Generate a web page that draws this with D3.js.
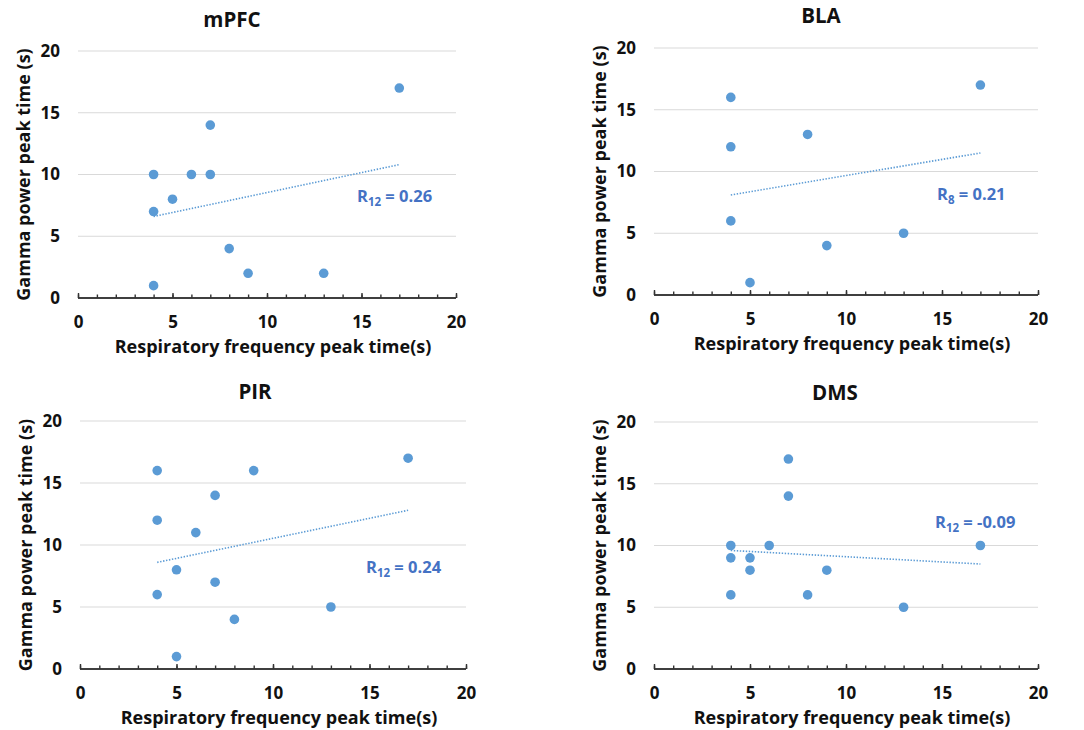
<!DOCTYPE html>
<html>
<head>
<meta charset="utf-8">
<script src="https://cdn.jsdelivr.net/npm/d3@7"></script>
<style>
  body { margin: 0; background: #fff; }
  svg { display: block; }
  text { font-family: "Open Sans", "Liberation Sans", sans-serif; font-weight: 700; }
</style>
</head>
<body>
<svg id="chart" width="1084" height="730"></svg>
<script>
// ---- data ----
const regions = ["mPFC", "BLA", "PIR", "DMS"];

const mpfcX = [4, 4, 4, 5, 6, 7, 7, 8, 9, 13, 17];
const mpfcY = [10, 7, 1, 8, 10, 14, 10, 4, 2, 2, 17];

const blaX = [4, 4, 4, 5, 8, 9, 13, 17];
const blaY = [16, 12, 6, 1, 13, 4, 5, 17];

const pirX = [4, 4, 4, 5, 5, 6, 7, 7, 8, 9, 13, 17];
const pirY = [16, 12, 6, 8, 1, 11, 14, 7, 4, 16, 5, 17];

const dmsX = [4, 4, 4, 5, 5, 6, 7, 7, 8, 9, 13, 17];
const dmsY = [10, 9, 6, 9, 8, 10, 17, 14, 6, 8, 5, 10];

// trendline ends [x, y] as drawn
const mpfcTrend = [[4, 6.6], [17, 10.8]];
const blaTrend = [[4, 8.1], [17, 11.5]];
const pirTrend = [[4, 8.6], [17, 12.8]];
const dmsTrend = [[4, 9.6], [17, 8.5]];

const rSub = ["12", "8", "12", "12"];
const rVal = ["0.26", "0.21", "0.24", "-0.09"];

const xTicks = [0, 5, 10, 15, 20];
const yTicks = [0, 5, 10, 15, 20];
const xTitle = "Respiratory frequency peak time(s)";
const yTitle = "Gamma power peak time (s)";

// ---- layout ----
const panels = [
  { x: mpfcX, y: mpfcY, trend: mpfcTrend, l: 78, r: 456, t: 51, b: 298, titleX: 232, titleY: 27, rx: 357, ry: 202 },
  { x: blaX, y: blaY, trend: blaTrend, l: 654, r: 1038, t: 48, b: 295, titleX: 821, titleY: 23, rx: 937, ry: 200 },
  { x: pirX, y: pirY, trend: pirTrend, l: 80, r: 466, t: 421, b: 669, titleX: 255, titleY: 399, rx: 366, ry: 573 },
  { x: dmsX, y: dmsY, trend: dmsTrend, l: 654, r: 1038, t: 422, b: 669, titleX: 835, titleY: 400, rx: 935, ry: 528 }
];

const dotColor = "#5b9bd5";
const rColor = "#4472c4";

const svg = d3.select("#chart");

panels.forEach((p, i) => {
  const g = svg.append("g");
  const x = d3.scaleLinear().domain([0, 20]).range([p.l, p.r]);
  const y = d3.scaleLinear().domain([0, 20]).range([p.b, p.t]);

  // gridlines
  g.selectAll("line.grid").data(yTicks.filter(d => d > 0)).enter()
    .append("line")
    .attr("x1", p.l).attr("x2", p.r)
    .attr("y1", d => y(d)).attr("y2", d => y(d))
    .attr("stroke", "#d9d9d9").attr("stroke-width", 1.2);

  // x axis: minor ticks every 1, major every 5, pointing up
  const minor = d3.axisBottom(x).tickValues(d3.range(0, 21, 1)).tickSize(-3.5).tickFormat("");
  const major = d3.axisBottom(x).tickValues(xTicks).tickSize(-5).tickPadding(18);
  const ax1 = g.append("g").attr("transform", `translate(0,${p.b})`).call(minor);
  const ax2 = g.append("g").attr("transform", `translate(0,${p.b})`).call(major);
  [ax1, ax2].forEach(a => {
    a.selectAll("path").attr("stroke", "#333").attr("stroke-width", 1.6).attr("d", `M${p.l},0H${p.r}`);
    a.selectAll("line").attr("stroke", "#333").attr("stroke-width", 1.4);
  });
  ax2.selectAll("text").attr("font-size", 17).attr("fill", "#111")
    .attr("font-family", "'Open Sans', sans-serif").attr("font-weight", 700);

  // y axis labels only
  const ay = g.append("g").attr("transform", `translate(${p.l},0)`)
    .call(d3.axisLeft(y).tickValues(yTicks).tickSize(0).tickPadding(18));
  ay.select("path").remove();
  ay.selectAll("text").attr("font-size", 17).attr("fill", "#111")
    .attr("font-family", "'Open Sans', sans-serif").attr("font-weight", 700);

  // trendline
  g.append("path")
    .datum(p.trend)
    .attr("d", d3.line().x(d => x(d[0])).y(d => y(d[1])))
    .attr("fill", "none").attr("stroke", dotColor)
    .attr("stroke-width", 1.6).attr("stroke-dasharray", "1.4 1.6");

  // points
  g.selectAll("circle").data(p.x.map((v, k) => [v, p.y[k]])).enter()
    .append("circle")
    .attr("cx", d => x(d[0])).attr("cy", d => y(d[1]))
    .attr("r", 4.8).attr("fill", dotColor);

  // titles
  g.append("text").attr("x", p.titleX).attr("y", p.titleY)
    .attr("text-anchor", "middle").attr("font-size", 20.5).attr("fill", "#111")
    .text(regions[i]);

  g.append("text").attr("x", (p.l + p.r) / 2 + 6).attr("y", p.b + 55)
    .attr("text-anchor", "middle").attr("font-size", 18).attr("fill", "#111")
    .text(xTitle);

  g.append("text")
    .attr("transform", `translate(${p.l - 48},${(p.t + p.b) / 2}) rotate(-90)`)
    .attr("text-anchor", "middle").attr("font-size", 18).attr("fill", "#111")
    .text(yTitle);

  // R label with subscript
  const rt = g.append("text").attr("x", p.rx).attr("y", p.ry)
    .attr("font-size", 16.5).attr("fill", rColor);
  rt.append("tspan").text("R");
  rt.append("tspan").attr("font-size", 11.5).attr("dy", 4).text(rSub[i]);
  rt.append("tspan").attr("dy", -4).text(" = " + rVal[i]);
});
</script>
</body>
</html>
